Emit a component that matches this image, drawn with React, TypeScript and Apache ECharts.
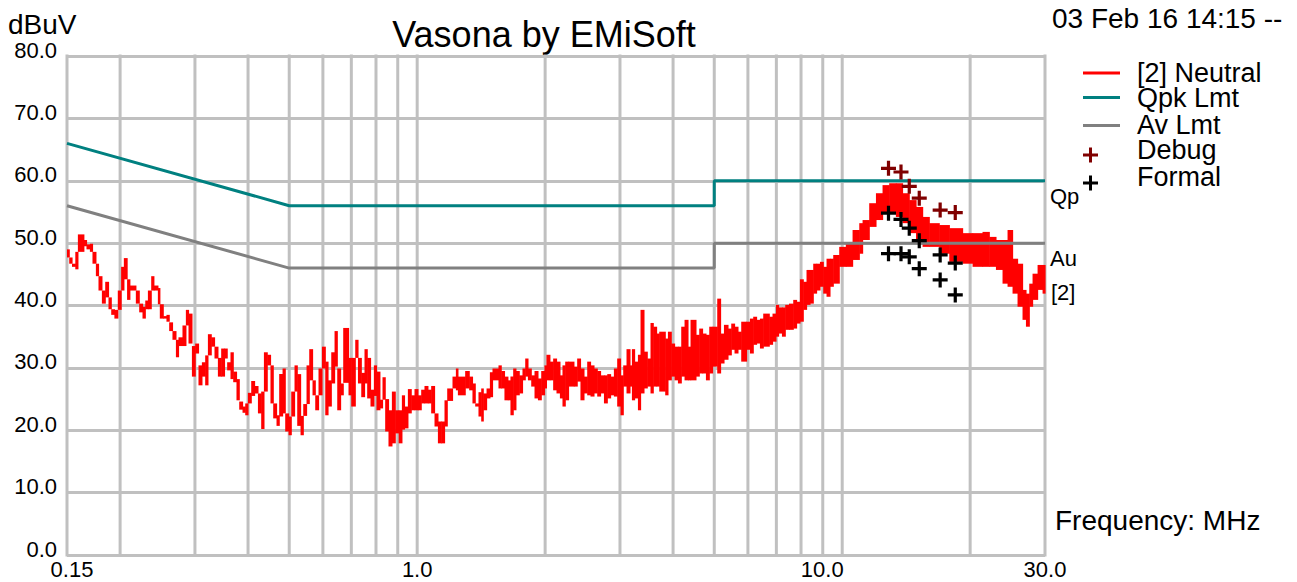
import React, { useEffect, useRef } from 'react';
import * as echarts from 'echarts';

const FONT = '"Liberation Sans", Arial, sans-serif';

// Axis ranges / ticks
const X_MIN = 0.15;
const X_MAX = 30;
const Y_MIN = 0;
const Y_MAX = 80;
const Y_STEP = 10;
const gridFreqs = [0.15, 0.2, 0.3, 0.4, 0.5, 0.6, 0.7, 0.8, 0.9, 1, 2, 3, 4, 5, 6, 7, 8, 9, 10, 20, 30];

// Limit lines
const qpkFreq = [0.15, 0.5, 5, 5, 30];
const qpkLevel = [66, 56, 56, 60, 60];
const avFreq = [0.15, 0.5, 5, 5, 30];
const avLevel = [56, 46, 46, 50, 50];

// Debug / Formal markers
const debugFreq = [12.85, 13.75, 14.38, 15.18, 17.0, 18.45];
const debugLevel = [62.0, 61.4, 59.1, 57.2, 55.3, 54.9];
const formalFreq = [12.85, 13.75, 14.38, 15.18, 12.85, 13.75, 14.38, 15.18, 17.0, 18.45, 17.0, 18.45];
const formalLevel = [54.8, 53.8, 52.4, 50.4, 48.3, 48.3, 47.8, 45.9, 48.1, 46.8, 44.1, 41.7];

// [2] Neutral trace: per display column, start frequency (MHz), min and max level (dBuV)
const neutralFreq = [
  0.150, 0.1518, 0.1541, 0.1569, 0.1591, 0.1643, 0.1667, 0.1698, 0.1722, 0.1754,
  0.1779, 0.1812, 0.1845, 0.1878, 0.1906, 0.1939, 0.1975, 0.2011, 0.2041, 0.2077,
  0.2108, 0.2178, 0.2218, 0.2258, 0.2292, 0.2325, 0.2367, 0.2401, 0.2454, 0.2480,
  0.2526, 0.2571, 0.2609, 0.2656, 0.2706, 0.2744, 0.2804, 0.2856, 0.2897, 0.2951,
  0.3004, 0.3058, 0.3115, 0.3171, 0.3218, 0.3276, 0.3335, 0.3397, 0.3458, 0.3520,
  0.3572, 0.3637, 0.3691, 0.3757, 0.3813, 0.3882, 0.3939, 0.3997, 0.4069, 0.4143,
  0.4220, 0.4295, 0.4359, 0.4437, 0.4517, 0.4584, 0.4667, 0.4735, 0.4822, 0.4892,
  0.4981, 0.5054, 0.5145, 0.5221, 0.5316, 0.5394, 0.5491, 0.5572, 0.5672, 0.5756,
  0.5859, 0.5969, 0.6077, 0.6167, 0.6278, 0.6391, 0.6485, 0.6602, 0.6698, 0.6893,
  0.6995, 0.7149, 0.7255, 0.7386, 0.7517, 0.7627, 0.7765, 0.7908, 0.8020, 0.8169,
  0.8287, 0.8408, 0.8560, 0.8719, 0.8877, 0.9044, 0.9204, 0.9334, 0.9508, 0.9680,
  0.9855, 1.0038, 1.0219, 1.0403, 1.0596, 1.0787, 1.0984, 1.1188, 1.1390, 1.1595,
  1.1766, 1.2108, 1.2332, 1.2467, 1.2969, 1.3253, 1.3491, 1.3693, 1.3938, 1.4146,
  1.4300, 1.4561, 1.4826, 1.5037, 1.5534, 1.5763, 1.6044, 1.6342, 1.6574, 1.6821,
  1.7068, 1.7378, 1.7690, 1.7955, 1.8219, 1.8548, 1.8882, 1.9233, 1.9580, 1.9927,
  2.0141, 2.0517, 2.0888, 2.1269, 2.1666, 2.1971, 2.2297, 2.2699, 2.3369, 2.3790,
  2.4219, 2.4676, 2.5120, 2.5572, 2.6051, 2.6520, 2.6997, 2.7505, 2.8000, 2.8504,
  2.9028, 2.9550, 3.0082, 3.0531, 3.1082, 3.1662, 3.2005, 3.2463, 3.3065, 3.3533,
  3.4155, 3.4770, 3.5396, 3.5919, 3.6571,
  3.711, 3.8332, 3.8897, 3.960, 4.0317, 4.1065, 4.1807, 4.2564, 4.3354, 4.3967,
  4.5268, 4.6088, 4.6916, 4.779, 4.8656, 4.9531, 5.081, 5.1725, 5.2692, 5.3844,
  5.4815, 5.580, 5.6835, 5.7861, 5.9543, 6.0655, 6.1746, 6.2862, 6.4034, 6.5186,
  6.7336, 6.8549, 6.9834, 7.0829, 7.2145, 7.344, 7.4964, 7.6691, 7.8073, 7.9530,
  8.0960, 8.2417, 8.3955, 8.5467, 8.7009, 8.8632, 9.0229, 9.1854, 9.3567, 9.525,
  9.839, 10.198, 10.577, 10.968, 11.166, 11.575, 12.005, 12.442, 12.899, 13.375,
  13.862, 14.375, 14.914, 15.457, 16.023, 16.912, 17.863, 19.193, 20.263, 21.385,
  22.179, 22.997, 23.834, 24.49, 25.162, 25.852, 26.561, 27.058, 27.547, 28.043,
  28.817, 29.608,
];
const neutralLow = [
  47.7, 46.7, 46.2, 45.8, 48.6, 49.5, 49.0, 48.6, 46.7, 44.7,
  42.4, 40.3, 41.3, 39.4, 38.5, 37.9, 39.3, 42.4, 44.2, 40.9,
  42.4, 40.3, 38.9, 37.9, 39.4, 39.4, 42.4, 42.4, 40.2, 37.9,
  37.9, 37.4, 35.9, 34.5, 31.7, 33.5, 33.5, 36.8, 33.9, 28.6,
  32.3, 27.2, 28.6, 27.2, 32.0, 33.4, 31.5, 28.6, 28.6, 31.5,
  29.6, 28.2, 27.7, 24.8, 23.3, 22.8, 22.4, 24.3, 25.5, 25.9,
  22.7, 20.2, 26.2, 30.4, 24.3, 21.9, 20.7, 22.2, 22.7, 19.8,
  19.2, 22.2, 26.2, 20.7, 19.2, 22.3, 24.2, 28.0, 25.6, 23.2,
  25.6, 29.9, 22.4, 23.8, 27.5, 30.2, 23.2, 25.6, 27.6, 25.6,
  23.8, 31.6, 27.5, 25.3, 27.5, 25.1, 23.8, 25.5, 23.2, 23.5,
  24.9, 19.8, 17.4, 17.9, 19.5, 17.9, 20.1, 20.3, 22.7, 23.2,
  23.2, 23.2, 24.3, 24.3, 24.3, 22.7, 20.6, 17.9, 17.9, 20.6,
  24.7, 26.7, 26.4, 25.6, 26.7, 26.4, 24.3, 23.8, 22.2, 21.4,
  23.2, 25.1, 25.3, 28.0, 26.7, 26.7, 24.8, 24.8, 22.4, 23.2,
  25.6, 25.9, 28.0, 28.6, 28.0, 27.0, 25.1, 24.8, 25.6, 26.7,
  28.0, 28.0, 26.4, 25.9, 25.1, 23.8, 24.8, 27.0, 27.0, 27.8,
  24.8, 25.9, 25.6, 25.4, 25.9, 25.4, 25.9, 24.3, 25.1, 25.6,
  25.4, 23.8, 22.4, 27.0, 25.9, 27.0, 24.8, 25.1, 23.2, 25.9,
  26.7, 27.0, 25.9, 27.0, 27.0,
  26.2, 25.6, 28.0, 28.6, 28.0, 27.5, 28.6, 28.0, 28.0, 28.0,
  28.6, 29.1, 29.1, 28.0, 29.1, 30.2, 29.1, 30.7, 31.3, 32.0,
  32.9, 32.3, 32.9, 31.0, 32.9, 32.3, 33.7, 33.9, 33.1, 33.4,
  33.7, 34.2, 35.0, 35.5, 35.0, 36.1, 36.1, 36.3, 37.1, 37.4,
  39.3, 40.1, 40.3, 41.9, 42.4, 43.0, 41.9, 41.4, 43.0, 43.5,
  46.2, 46.2, 47.3, 48.3, 50.5, 52.6, 53.7, 54.8, 55.0, 54.2,
  53.2, 51.6, 50.5, 49.4, 49.4, 48.3, 47.0, 46.7, 46.2, 46.2,
  46.2, 45.7, 43.5, 43.0, 41.9, 39.8, 37.7, 36.6, 39.8, 40.9,
  42.5, 41.9,
];
const neutralHigh = [
  49.0, 47.7, 46.7, 48.6, 51.4, 50.5, 49.8, 49.9, 48.6, 46.7,
  44.7, 42.4, 43.8, 41.3, 39.4, 39.3, 42.4, 46.2, 47.6, 44.2,
  43.2, 42.4, 40.3, 39.8, 40.8, 42.4, 44.7, 43.2, 42.8, 40.2,
  38.3, 38.5, 37.3, 35.9, 34.5, 34.9, 36.8, 39.3, 38.7, 33.5,
  33.9, 30.4, 30.9, 32.0, 35.4, 34.9, 33.4, 31.6, 33.1, 33.1,
  30.9, 32.5, 29.4, 28.2, 24.6, 23.8, 24.3, 26.0, 27.9, 27.1,
  25.9, 26.2, 32.5, 32.1, 30.4, 24.3, 22.4, 29.0, 29.9, 22.7,
  22.2, 26.2, 30.4, 29.0, 22.3, 24.2, 30.4, 33.0, 28.0, 25.6,
  29.9, 33.4, 31.0, 28.0, 32.5, 35.9, 29.9, 27.5, 36.4, 31.6,
  31.6, 34.5, 31.6, 29.2, 33.0, 31.6, 26.5, 30.4, 29.4, 24.9,
  28.5, 25.0, 23.2, 26.2, 23.2, 23.2, 25.6, 23.8, 26.6, 25.6,
  26.6, 25.6, 26.5, 27.1, 26.5, 27.1, 22.7, 21.4, 21.4, 24.8,
  26.7, 28.6, 29.9, 28.6, 29.5, 28.6, 27.5, 24.3, 26.1, 26.7,
  25.9, 26.7, 29.3, 29.9, 30.4, 29.5, 28.6, 28.0, 28.6, 29.9,
  29.5, 28.8, 29.9, 31.5, 29.9, 28.8, 29.5, 28.3, 29.5, 30.4,
  32.1, 31.0, 31.5, 31.0, 28.8, 30.4, 31.0, 31.0, 30.2, 31.5,
  29.9, 28.6, 31.0, 30.4, 29.9, 29.5, 28.8, 28.8, 29.0, 28.6,
  29.9, 31.5, 28.8, 30.4, 33.0, 30.4, 33.0, 31.0, 32.1, 39.3,
  32.6, 31.5, 37.2, 36.6, 35.5,
  35.8, 34.7, 35.8, 33.9, 33.4, 33.4, 36.6, 37.7, 33.4, 37.7,
  35.3, 36.3, 35.5, 35.3, 36.6, 36.6, 41.1, 35.5, 36.9, 36.3,
  37.1, 36.6, 35.8, 37.4, 37.4, 37.9, 38.2, 37.7, 37.9, 38.7,
  38.2, 38.7, 40.1, 39.7, 39.7, 40.1, 40.3, 40.9, 40.6, 44.2,
  43.8, 45.7, 45.7, 46.7, 46.7, 47.0, 46.2, 47.5, 47.5, 48.1,
  49.4, 49.9, 52.1, 53.2, 53.7, 56.4, 58.0, 59.3, 59.6, 59.6,
  58.0, 56.9, 55.8, 54.2, 53.2, 52.9, 52.4, 51.6, 51.6, 51.8,
  51.0, 50.5, 50.5, 52.1, 47.5, 46.7, 42.5, 41.9, 43.5, 45.1,
  46.5, 46.5,
];

const PLUS = 'path://M5.5,0H8.5V5.5H14V8.5H8.5V14H5.5V8.5H0V5.5H5.5Z';

function plusGraphic(cx: number, cy: number, color: string) {
  return {
    type: 'group',
    silent: true,
    children: [
      { type: 'rect', shape: { x: cx - 7.5, y: cy - 1.5, width: 15, height: 3 }, style: { fill: color } },
      { type: 'rect', shape: { x: cx - 1.5, y: cy - 7.5, width: 3, height: 15 }, style: { fill: color } },
    ],
  };
}

function txt(x: number, y: number, text: string, size: number, align = 'left', lineHeight?: number) {
  const style: any = { text, fill: '#000', font: `${size}px ${FONT}`, align, verticalAlign: 'middle' };
  if (lineHeight) style.lineHeight = lineHeight;
  return { type: 'text', x, y, silent: true, style };
}

export default function App() {
  const ref = useRef<HTMLDivElement>(null);

  useEffect(() => {
    if (!ref.current) return;
    const chart = echarts.init(ref.current, null, { renderer: 'svg' });

    const traceData = neutralFreq.map((f, i) => [
      f,
      neutralLow[i],
      neutralHigh[i],
      i + 1 < neutralFreq.length ? neutralFreq[i + 1] : X_MAX,
    ]);

    const option: any = {
      animation: false,
      backgroundColor: '#ffffff',
      textStyle: { fontFamily: FONT },
      grid: { left: 67, right: 252, top: 56, bottom: 27, containLabel: false },
      xAxis: {
        type: 'log',
        logBase: 10,
        min: X_MIN,
        max: X_MAX,
        axisLine: { show: false },
        axisTick: { show: false },
        splitLine: { show: false },
        axisLabel: {
          color: '#000',
          fontSize: 22,
          fontFamily: FONT,
          margin: 3,
          formatter: (v: number) => {
            if (Math.abs(v - 0.15) < 1e-6) return '{a|0.15}';
            if (Math.abs(v - 10) < 1e-6) return '{b|10.0}';
            return v.toFixed(1);
          },
          rich: {
            a: { fontSize: 22, fontFamily: FONT, color: '#000', padding: [0, 0, 0, 10] },
            b: { fontSize: 22, fontFamily: FONT, color: '#000', padding: [0, 40, 0, 0] },
          },
        },
      },
      yAxis: {
        type: 'value',
        min: Y_MIN,
        max: Y_MAX,
        interval: Y_STEP,
        axisLine: { show: false },
        axisTick: { show: false },
        splitLine: { show: true, lineStyle: { color: '#c0c0c0', width: 3 } },
        axisLabel: {
          color: '#000',
          fontSize: 22,
          fontFamily: FONT,
          margin: 10,
          verticalAlign: 'bottom',
          lineHeight: 12,
          formatter: (v: number) => v.toFixed(1),
        },
      },
      series: [
        {
          name: 'grid',
          type: 'custom',
          z: 1,
          silent: true,
          clip: false,
          data: gridFreqs.map((f) => [f, 0]),
          encode: { x: 0, y: 1 },
          renderItem: (params: any, api: any) => {
            const f = api.value(0);
            const top = api.coord([f, Y_MAX]);
            const bot = api.coord([f, Y_MIN]);
            return {
              type: 'line',
              shape: { x1: top[0], y1: top[1] - 1.5, x2: bot[0], y2: bot[1] + 1.5 },
              style: { stroke: '#c0c0c0', lineWidth: 3 },
            };
          },
        },
        {
          name: '[2] Neutral',
          type: 'custom',
          z: 2,
          silent: true,
          data: traceData,
          encode: { x: [0, 3], y: [1, 2] },
          renderItem: (params: any, api: any) => {
            const f0 = api.value(0);
            const lo = api.value(1);
            const hi = api.value(2);
            const f1 = api.value(3);
            const a = api.coord([f0, hi]);
            const b = api.coord([f1, lo]);
            let h = b[1] - a[1];
            if (h < 2.5) h = 2.5;
            return {
              type: 'rect',
              shape: { x: a[0], y: a[1], width: b[0] - a[0] + 0.6, height: h },
              style: { fill: '#ff0000' },
            };
          },
        },
        {
          name: 'Qpk Lmt',
          type: 'line',
          z: 3,
          silent: true,
          symbol: 'none',
          lineStyle: { color: '#008080', width: 3 },
          data: qpkFreq.map((f, i) => [f, qpkLevel[i]]),
        },
        {
          name: 'Av Lmt',
          type: 'line',
          z: 3,
          silent: true,
          symbol: 'none',
          lineStyle: { color: '#808080', width: 3 },
          data: avFreq.map((f, i) => [f, avLevel[i]]),
        },
        {
          name: 'Debug',
          type: 'scatter',
          z: 4,
          silent: true,
          symbol: PLUS,
          symbolSize: 15,
          itemStyle: { color: '#800000', opacity: 1 },
          data: debugFreq.map((f, i) => [f, debugLevel[i]]),
        },
        {
          name: 'Formal',
          type: 'scatter',
          z: 4,
          silent: true,
          symbol: PLUS,
          symbolSize: 15,
          itemStyle: { color: '#000000', opacity: 1 },
          data: formalFreq.map((f, i) => [f, formalLevel[i]]),
        },
      ],
      graphic: [
        txt(544, 34, 'Vasona by EMiSoft', 36, 'center'),
        txt(8, 24, 'dBuV', 28),
        txt(1052, 18, '03 Feb 16 14:15 --', 28),
        // legend
        { type: 'rect', silent: true, shape: { x: 1083, y: 71.5, width: 37, height: 3 }, style: { fill: '#ff0000' } },
        { type: 'rect', silent: true, shape: { x: 1083, y: 96, width: 37, height: 3 }, style: { fill: '#008080' } },
        { type: 'rect', silent: true, shape: { x: 1083, y: 124, width: 37, height: 3 }, style: { fill: '#808080' } },
        plusGraphic(1090.5, 155, '#800000'),
        plusGraphic(1090.5, 183, '#000000'),
        txt(1137, 73, '[2] Neutral', 27, 'left', 22),
        txt(1137, 98, 'Qpk Lmt', 27, 'left', 22),
        txt(1137, 125, 'Av Lmt', 27, 'left', 22),
        txt(1137, 150, 'Debug', 27, 'left', 22),
        txt(1137, 177, 'Formal', 27, 'left', 22),
        // end-of-line labels
        txt(1050, 196, 'Qp', 22),
        txt(1050, 258, 'Au', 22),
        txt(1051, 292, '[2]', 22),
        txt(1055, 520, 'Frequency: MHz', 28),
      ],
    };

    chart.setOption(option);
    return () => chart.dispose();
  }, []);

  return (
    <div
      ref={ref}
      style={{ position: 'fixed', left: 0, top: 0, width: 1297, height: 582, background: '#fff' }}
    />
  );
}
